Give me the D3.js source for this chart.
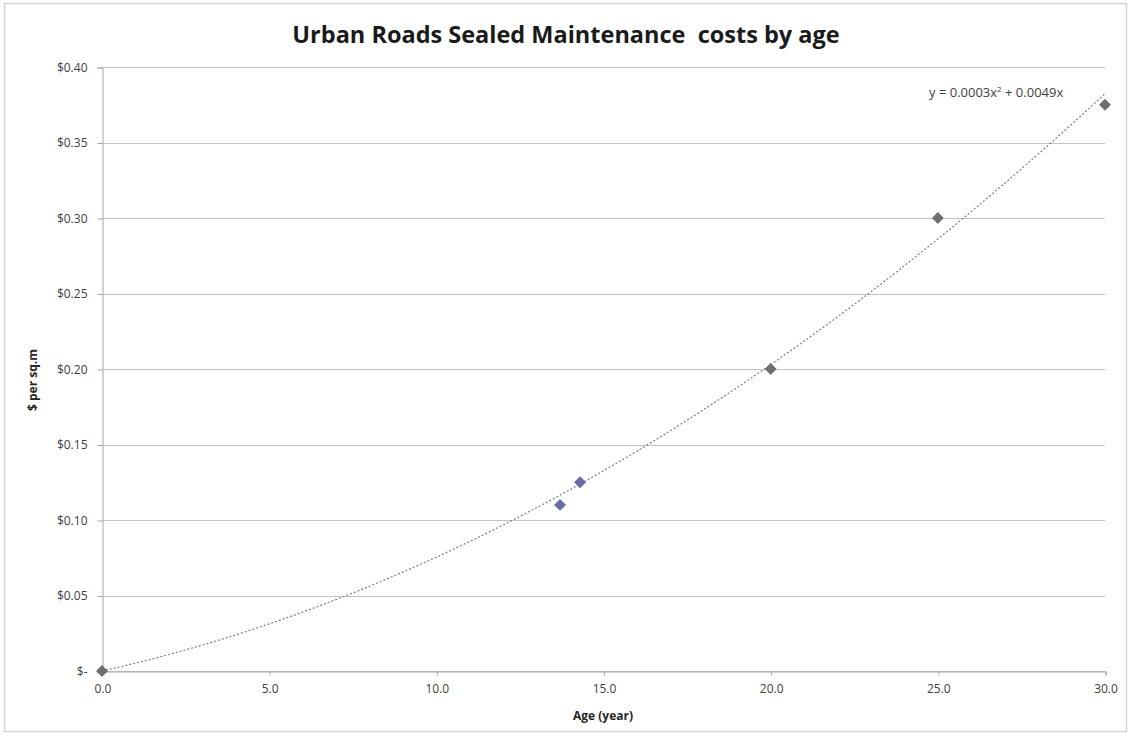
<!DOCTYPE html>
<html>
<head>
<meta charset="utf-8">
<script src="https://cdn.jsdelivr.net/npm/d3@7"></script>
<style>
  html, body { margin: 0; padding: 0; background: #fff; }
  svg { display: block; }
  text { font-family: "Open Sans", "Liberation Sans", sans-serif; }
</style>
</head>
<body>
<svg id="chart" width="1132" height="736"></svg>
<script>
// Maintenance cost observations (age in years, $ per square metre)
const agesA  = [0.0, 20.0, 25.0, 30.0];
const costsA = [0.000, 0.200, 0.300, 0.375];
const agesB  = [13.7, 14.3];
const costsB = [0.110, 0.125];

const xTicks = [0, 5, 10, 15, 20, 25, 30];
const yTicks = [0, 0.05, 0.10, 0.15, 0.20, 0.25, 0.30, 0.35, 0.40];

const titleText = "Urban Roads Sealed Maintenance  costs by age";
const xTitle = "Age (year)";
const yTitle = "$ per sq.m";

const svg = d3.select("#chart");
const m = { left: 102, right: 1105, top: 67, bottom: 671 };

// chart frame
svg.append("rect")
  .attr("x", 4.5).attr("y", 3.5).attr("width", 1122).attr("height", 728)
  .attr("fill", "#fff").attr("stroke", "#d4d4d4").attr("stroke-width", 1.5);

const x = d3.scaleLinear().domain([0, 30]).range([m.left, m.right]);
const y = d3.scaleLinear().domain([0, 0.40]).range([m.bottom, m.top]);

// horizontal gridlines
svg.append("g").selectAll("line").data(yTicks).join("line")
  .attr("x1", m.left).attr("x2", m.right)
  .attr("y1", d => Math.round(y(d)) + 0.5).attr("y2", d => Math.round(y(d)) + 0.5)
  .attr("stroke", "#c2c2c2").attr("stroke-width", 1);

// y axis
const yAxis = d3.axisLeft(y).tickValues(yTicks).tickSize(5).tickPadding(10)
  .tickFormat(d => d === 0 ? "$-" : "$" + d3.format(".2f")(d));
const gy = svg.append("g").attr("transform", `translate(${m.left + 0.5},0.5)`).call(yAxis);
gy.select(".domain").attr("stroke", "#a6a6a6");
gy.selectAll(".tick line").attr("stroke", "#a6a6a6");
gy.selectAll(".tick text").attr("fill", "#404040").style("font-size", "12px")
  .style("font-family", "'Open Sans', sans-serif");

// x axis
const xAxis = d3.axisBottom(x).tickValues(xTicks).tickSize(4).tickPadding(9)
  .tickFormat(d3.format(".1f"));
const gx = svg.append("g").attr("transform", `translate(0.5,${m.bottom + 0.5})`).call(xAxis);
gx.select(".domain").attr("stroke", "#a6a6a6");
gx.selectAll(".tick line").attr("stroke", "#a6a6a6");
gx.selectAll(".tick text").attr("fill", "#404040").style("font-size", "12px")
  .style("font-family", "'Open Sans', sans-serif");

// least-squares quadratic through the origin: y = a x^2 + b x
const allX = agesA.concat(agesB), allY = costsA.concat(costsB);
let s4 = 0, s3 = 0, s2 = 0, s2y = 0, s1y = 0;
allX.forEach((xi, i) => {
  const yi = allY[i];
  s4 += xi ** 4; s3 += xi ** 3; s2 += xi ** 2; s2y += xi * xi * yi; s1y += xi * yi;
});
const det = s4 * s2 - s3 * s3;
const a = (s2y * s2 - s3 * s1y) / det;
const b = (s4 * s1y - s3 * s2y) / det;

const trendX = d3.range(0, 30.01, 0.25);
const line = d3.line().x(d => x(d)).y(d => y(a * d * d + b * d));
svg.append("path").datum(trendX)
  .attr("d", line).attr("fill", "none")
  .attr("stroke", "#7f7f7f").attr("stroke-width", 1.2)
  .attr("stroke-dasharray", "2,2");

// markers
const diamond = d3.symbol().type(d3.symbolDiamond2).size(90);
function drawPoints(xs, ys, color) {
  svg.append("g").selectAll("path").data(xs.map((v, i) => [v, ys[i]])).join("path")
    .attr("d", diamond)
    .attr("transform", d => `translate(${x(d[0])},${y(d[1])})`)
    .attr("fill", color);
}
drawPoints(agesA, costsA, "#6e6e6e");
drawPoints(agesB, costsB, "#6b6ba6");

// equation label
const eq = svg.append("text").attr("x", 929).attr("y", 97)
  .attr("fill", "#404040").style("font-size", "13px");
eq.append("tspan").text(`y = ${a.toFixed(4)}x`);
eq.append("tspan").attr("dy", -5).style("font-size", "8px").text("2");
eq.append("tspan").attr("dy", 5).text(` + ${b.toFixed(4)}x`);

// titles
svg.append("text").attr("x", 566).attr("y", 43).attr("text-anchor", "middle")
  .attr("xml:space", "preserve").style("white-space", "pre")
  .attr("fill", "#1a1a1a").style("font-size", "23.5px").style("font-weight", "bold")
  .text(titleText);
svg.append("text").attr("x", 603).attr("y", 720).attr("text-anchor", "middle")
  .attr("fill", "#262626").style("font-size", "12px").style("font-weight", "bold")
  .text(xTitle);
svg.append("text").attr("transform", "translate(37,380) rotate(-90)")
  .attr("text-anchor", "middle")
  .attr("fill", "#262626").style("font-size", "12px").style("font-weight", "bold")
  .text(yTitle);
</script>
</body>
</html>
